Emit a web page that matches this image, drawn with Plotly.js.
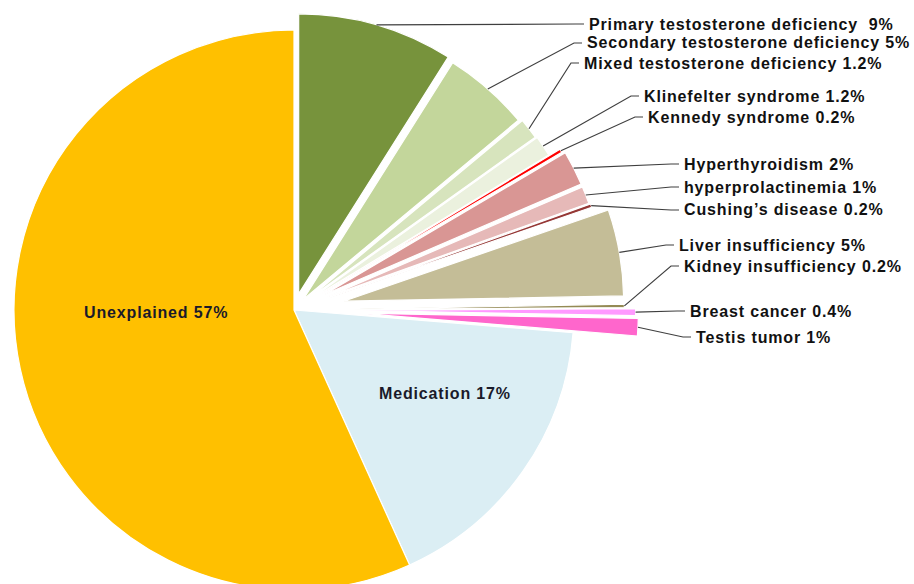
<!DOCTYPE html>
<html>
<head>
<meta charset="utf-8">
<script src="https://cdn.plot.ly/plotly-3.0.1.min.js"></script>
<style>
html,body{margin:0;padding:0;overflow:hidden;background:#fff;width:914px;height:584px;}
#chart{position:absolute;left:-100px;top:-100px;width:1100px;height:800px;}
</style>
</head>
<body>
<div id="chart"></div>
<script>
// ---- data ----
const categories = [
  "Primary testosterone deficiency", "Secondary testosterone deficiency", "Mixed testosterone deficiency",
  "Klinefelter syndrome", "Kennedy syndrome", "Hyperthyroidism", "hyperprolactinemia",
  "Cushing\u2019s disease", "Liver insufficiency", "Kidney insufficiency", "Breast cancer",
  "Testis tumor", "Medication", "Unexplained"
];
const values = [9, 5, 1.2, 1.2, 0.2, 2, 1, 0.2, 5, 0.2, 0.4, 1, 17, 57];
const valueLabels = ["9%", "5%", "1.2%", "1.2%", "0.2%", "2%", "1%", "0.2%", "5%", "0.2%", "0.4%", "1%", "17%", "57%"];
const colors = ["#77933c", "#c3d69b", "#d7e4bd", "#ebf1de", "#ff0000", "#d99694", "#e6b9b8",
  "#953735", "#c4bd97", "#948a54", "#ff99ff", "#ff66cc", "#dbeef4", "#ffc000"];
const pulls = [0.06, 0.05, 0.06, 0.065, 0.11, 0.12, 0.12, 0.125, 0.18, 0.18, 0.22, 0.23, 0, 0];

// ---- layout geometry (page pixels) ----
const OX = 100, OY = 100, W = 1100, H = 800;
const CX = 294, CY = 310, R = 280;
const maxPull = Math.max(...pulls);
const half = R * (1 + maxPull);
const px = x => (x + OX) / W;
const py = y => 1 - (y + OY) / H;

// outside label positions (left x, middle y) for the first 12 slices
const labelPos = [[588,24],[586,43],[583,63],[643,96],[647,117],[683,164],[683,187],[683,210],[678,245],[683,266],[689,311],[695,337]];
const insidePos = {12: [445, 393], 13: [156, 312]};
const FONT = "'Liberation Sans', Arial, sans-serif";
const FS = 16;
const spaced = t => `<span style="letter-spacing:0.85px">${t}</span>`;

const total = values.reduce((a, b) => a + b, 0);
const annotations = [];
const shapes = [];
let cum = 0;
values.forEach((v, i) => {
  const a0 = cum / total * 2 * Math.PI;
  cum += v;
  const a1 = cum / total * 2 * Math.PI;
  const mid = (a0 + a1) / 2;
  const text = spaced(categories[i] + (i === 0 ? "  " : " ") + valueLabels[i]);
  if (i < 12) {
    const d = R * (1 + pulls[i]);
    const sx = CX + d * Math.sin(mid), sy = CY - d * Math.cos(mid);
    const [lx, ly] = labelPos[i];
    shapes.push({
      type: "path", xref: "paper", yref: "paper",
      path: `M ${px(sx)} ${py(sy)} L ${px(lx - 12)} ${py(ly)} L ${px(lx - 4)} ${py(ly)}`,
      line: {color: "#3f3f3f", width: 1.2}
    });
    annotations.push({
      xref: "paper", yref: "paper", x: px(lx), y: py(ly), xanchor: "left", yanchor: "middle",
      text: text, showarrow: false, borderpad: 0,
      font: {family: FONT, size: FS, color: "#111", weight: "bold"}
    });
  } else {
    const [lx, ly] = insidePos[i];
    annotations.push({
      xref: "paper", yref: "paper", x: px(lx), y: py(ly), xanchor: "center", yanchor: "middle",
      text: text, showarrow: false,
      font: {family: FONT, size: FS, color: "#1a1a2a", weight: "bold"}
    });
  }
});

const trace = {
  type: "pie",
  labels: categories,
  values: values,
  sort: false,
  direction: "clockwise",
  rotation: 0,
  pull: pulls,
  textinfo: "none",
  hoverinfo: "label+value",
  marker: {colors: colors, line: {color: "#ffffff", width: 1.2}},
  domain: {
    x: [px(CX - half), px(CX + half)],
    y: [py(CY + half), py(CY - half)]
  },
  automargin: false
};

Plotly.newPlot("chart", [trace], {
  width: W, height: H,
  margin: {l: 0, r: 0, t: 0, b: 0},
  showlegend: false,
  paper_bgcolor: "#fff",
  annotations: annotations,
  shapes: shapes
}, {displayModeBar: false, staticPlot: true});
</script>
</body>
</html>
